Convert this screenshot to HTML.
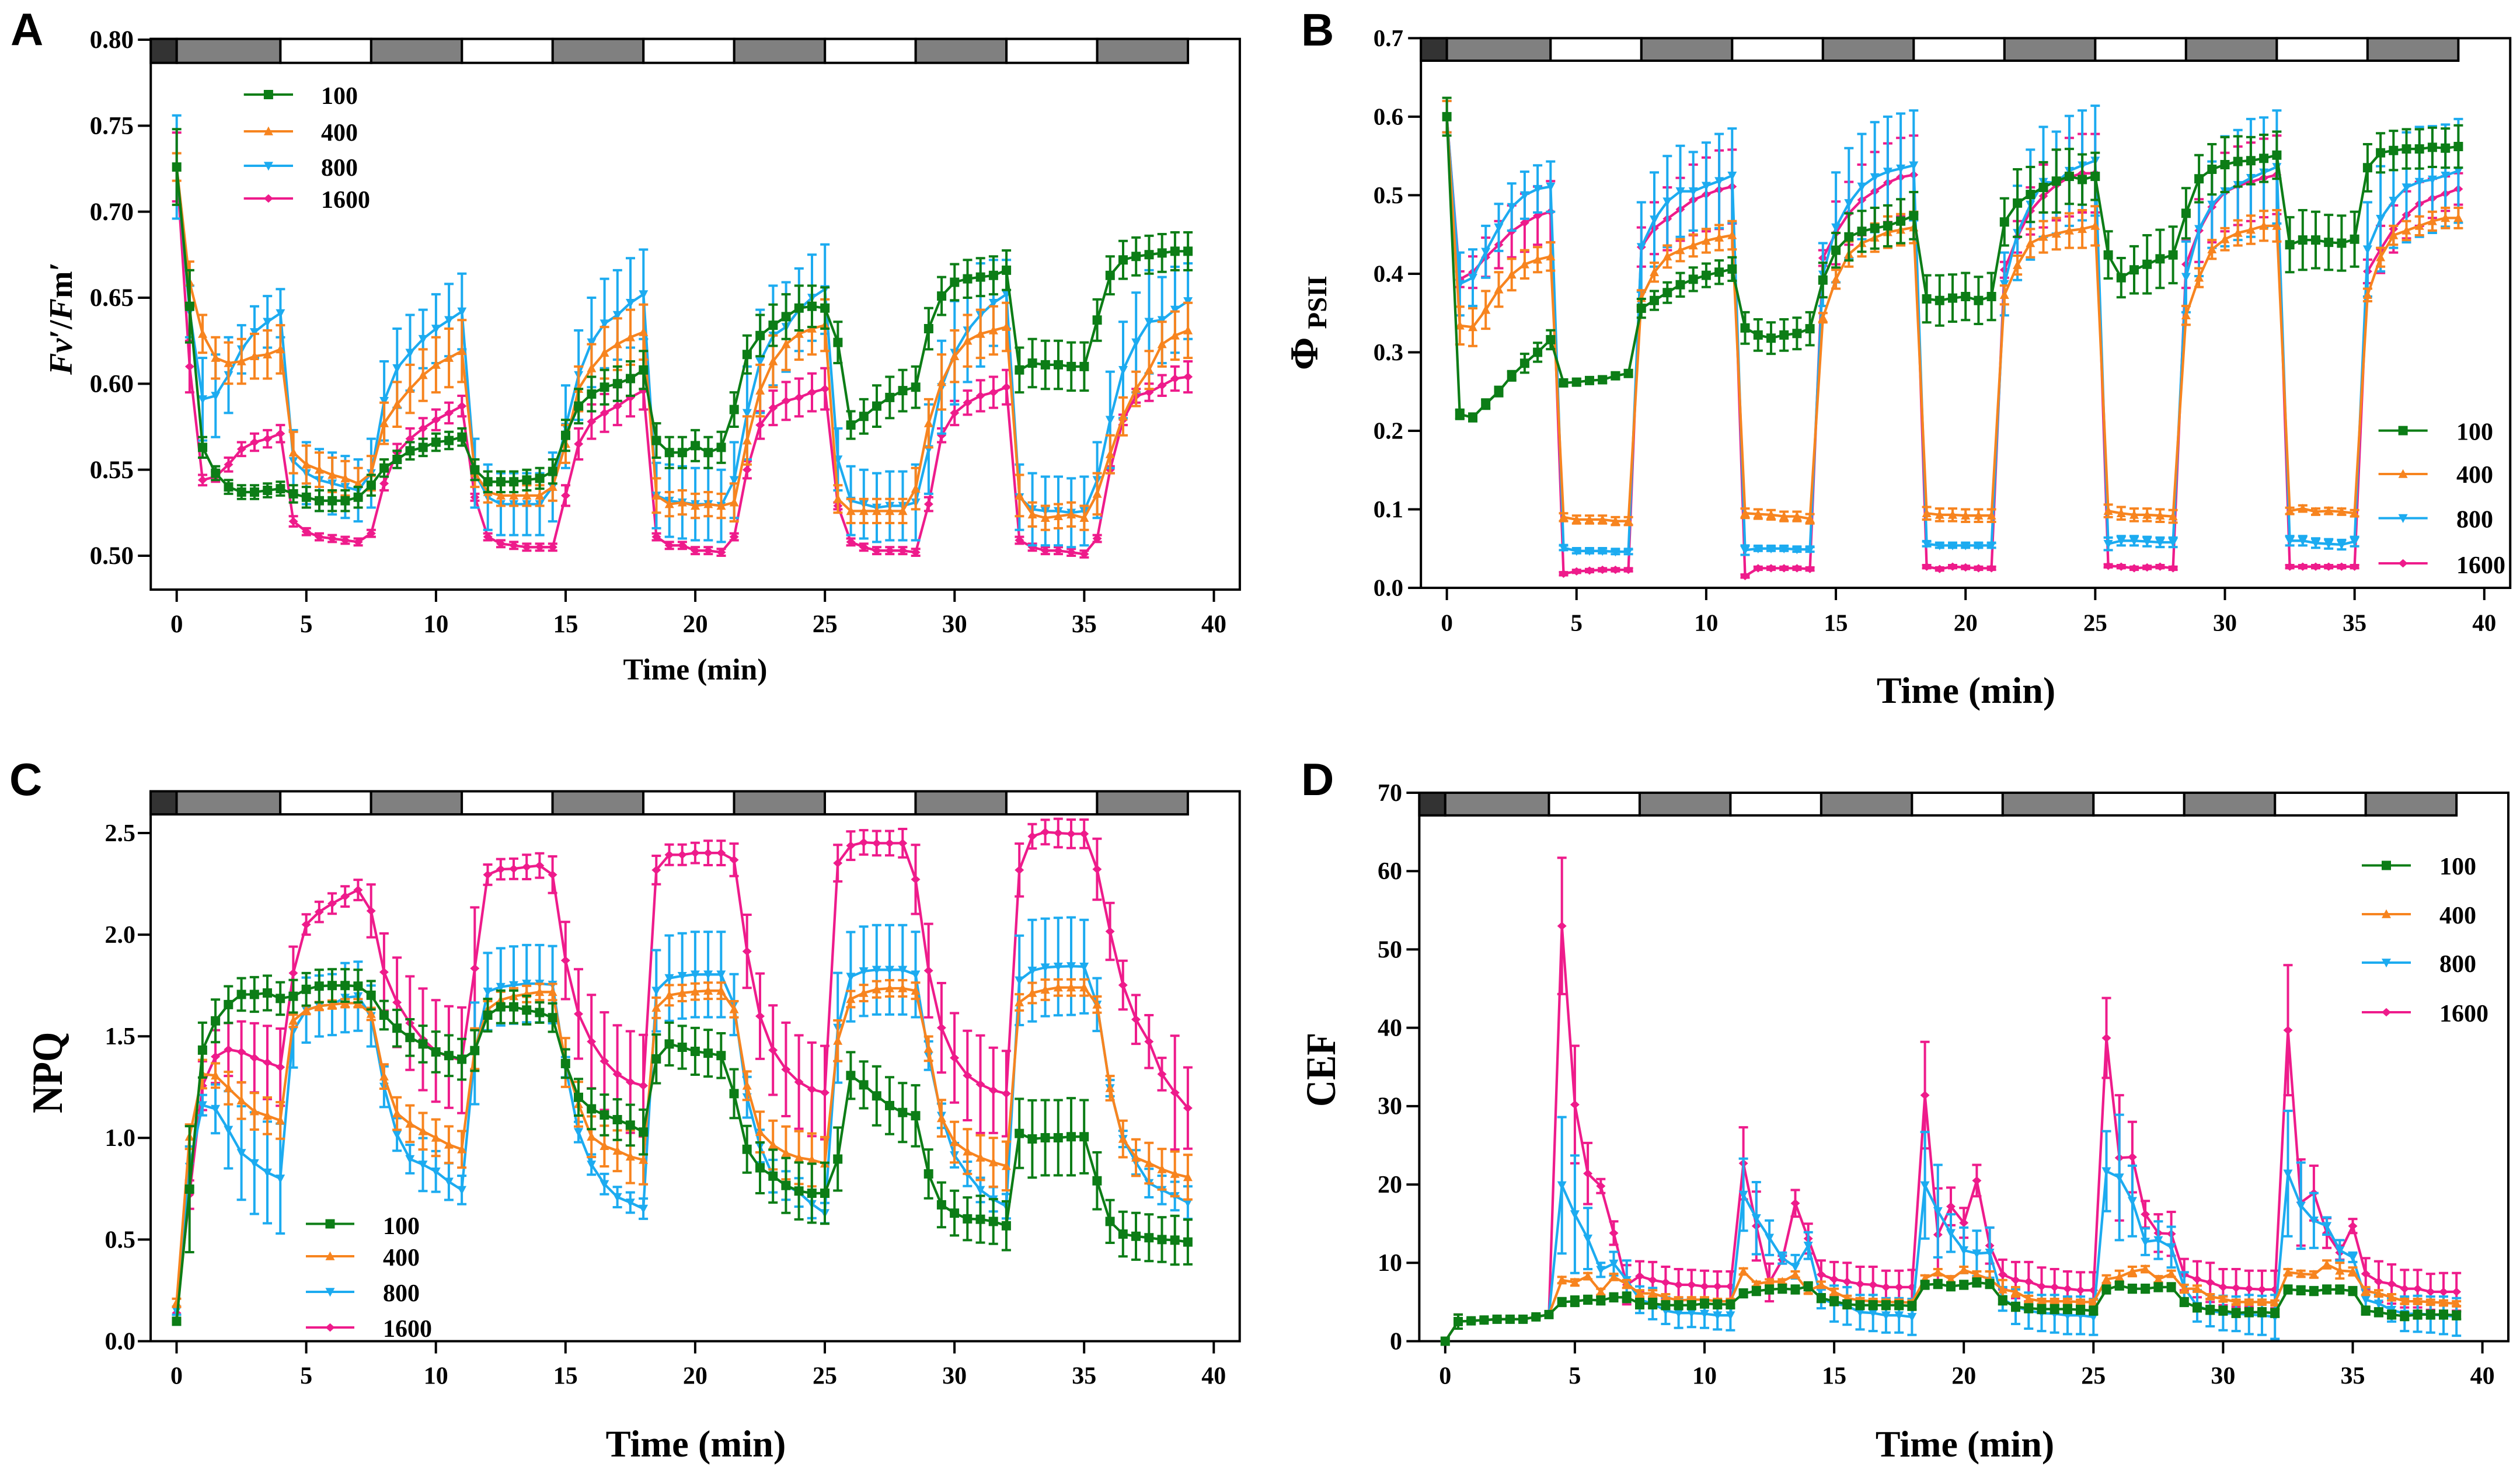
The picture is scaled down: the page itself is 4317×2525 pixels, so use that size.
<!DOCTYPE html>
<html lang="en">
<head>
<meta charset="utf-8">
<title>Chlorophyll fluorescence time courses</title>
<style>
html,body{margin:0;padding:0;background:#fff;}
svg{display:block;}
text{font-family:"Liberation Serif",serif;font-weight:bold;fill:#000;}
.panel-letter{font-family:"Liberation Sans",sans-serif;font-size:78px;}
</style>
</head>
<body>
<svg id="figure" xmlns="http://www.w3.org/2000/svg" width="4317" height="2525" viewBox="0 0 4317 2525">
<rect x="0" y="0" width="4317" height="2525" fill="#fff"/>
<text class="panel-letter" x="18" y="77">A</text>
<text class="panel-letter" x="2229" y="78">B</text>
<text class="panel-letter" x="16" y="1362">C</text>
<text class="panel-letter" x="2229" y="1362">D</text>
<text x="1191" y="1164" font-size="51.6" text-anchor="middle">Time (min)</text>
<text x="3368" y="1204" font-size="64" text-anchor="middle">Time (min)</text>
<text x="1192" y="2495" font-size="64.5" text-anchor="middle">Time (min)</text>
<text x="3366" y="2495" font-size="64" text-anchor="middle">Time (min)</text>
<text transform="translate(123,642) rotate(-90)" font-size="56"><tspan font-style="italic">F</tspan><tspan font-style="italic">v</tspan>′/<tspan font-style="italic">F</tspan>m′</text>
<text transform="translate(2257,634) rotate(-90)" font-size="68">Φ<tspan font-size="47" dx="14" dy="15">PSII</tspan></text>
<text transform="translate(106,1907) rotate(-90) scale(1,1.12)" font-size="66">NPQ</text>
<text transform="translate(2287,1896) rotate(-90) scale(1,1.14)" font-size="63.5">CEF</text>
</svg>
<script>
const seriesLabels = ['100','400','800','1600'];
const timeMin = [0,0.5,1,1.5,2,2.5,3,3.5,4,
4.5,5,5.5,6,6.5,7,
7.5,8,8.5,9,9.5,10,10.5,11,
11.5,12,12.5,13,13.5,14,
14.5,15,15.5,16,16.5,17,17.5,18,
18.5,19,19.5,20,20.5,21,
21.5,22,22.5,23,23.5,24,24.5,25,
25.5,26,26.5,27,27.5,28,
28.5,29,29.5,30,30.5,31,31.5,32,
32.5,33,33.5,34,34.5,35,
35.5,36,36.5,37,37.5,38,38.5,39];
const xTickValues = [0,5,10,15,20,25,30,35,40];
const barEdges = [-1,0,4,7.5,11,14.5,18,21.5,25,28.5,32,35.5,39];
const yTicksA = ['0.50','0.55','0.60','0.65','0.70','0.75','0.80'];
const yTicksB = ['0.0','0.1','0.2','0.3','0.4','0.5','0.6','0.7'];
const yTicksC = ['0.0','0.5','1.0','1.5','2.0','2.5'];
const yTicksD = ['0','10','20','30','40','50','60','70'];

/* Panel A: Fv'/Fm' */
const fvMean100 = [.726,.645,.563,.548,.54,.537,.537,.538,.539,
.536,.534,.532,.532,.532,.534,
.541,.551,.556,.561,.563,.566,.567,.569,
.55,.543,.543,.543,.544,.545,
.549,.57,.587,.594,.598,.6,.603,.608,
.567,.56,.56,.564,.56,.563,
.585,.617,.628,.634,.639,.644,.645,.644,
.624,.576,.581,.587,.592,.596,
.598,.632,.651,.659,.661,.662,.663,.666,
.608,.612,.611,.611,.61,.61,
.637,.663,.672,.674,.675,.676,.677,.677];
const fvErr100 = [.022,.021,.006,.004,.004,.004,.004,.004,.004,
.005,.006,.006,.006,.006,.006,
.006,.005,.005,.005,.005,.005,.005,.005,
.006,.006,.006,.006,.006,.006,
.007,.009,.01,.01,.01,.01,.01,.011,
.01,.009,.009,.009,.009,.009,
.01,.011,.012,.012,.013,.013,.012,.012,
.012,.008,.01,.012,.012,.012,
.012,.012,.011,.0105,.011,.011,.011,.0115,
.013,.014,.014,.014,.014,.014,
.012,.011,.011,.011,.011,.011,.011,.011];
const fvMean400 = [.726,.659,.629,.615,.612,.613,.616,.617,.62,
.56,.553,.55,.547,.545,.542,
.548,.577,.588,.597,.605,.611,.615,.619,
.548,.537,.535,.535,.535,.535,
.54,.565,.597,.609,.618,.623,.627,.63,
.535,.53,.531,.529,.53,.529,
.531,.567,.596,.613,.623,.629,.632,.634,
.533,.526,.526,.526,.526,.526,
.539,.577,.601,.616,.625,.629,.631,.633,
.535,.524,.522,.523,.524,.522,
.536,.559,.581,.597,.608,.623,.628,.631];
const fvErr400 = [.008,.012,.011,.012,.012,.013,.013,.014,.014,
.012,.011,.01,.01,.01,.009,
.01,.012,.013,.014,.015,.016,.017,.018,
.008,.006,.006,.006,.006,.006,
.008,.011,.013,.014,.015,.015,.016,.016,
.01,.007,.007,.007,.007,.007,
.011,.014,.015,.015,.015,.015,.015,.015,
.008,.007,.007,.007,.007,.007,
.012,.014,.016,.015,.015,.014,.014,.014,
.012,.007,.007,.007,.007,.007,
.012,.011,.011,.01,.011,.013,.014,.016];
const fvMean800 = [.726,.642,.591,.593,.605,.62,.63,.636,.641,
.555,.548,.544,.542,.54,.538,
.548,.59,.609,.618,.626,.632,.637,.642,
.548,.534,.53,.53,.53,.53,
.54,.575,.605,.624,.635,.64,.647,.652,
.535,.532,.531,.53,.53,.529,
.544,.583,.613,.628,.633,.643,.65,.655,
.556,.532,.53,.528,.529,.529,
.531,.562,.598,.618,.631,.64,.647,.652,
.534,.527,.526,.526,.525,.526,
.544,.579,.608,.624,.636,.637,.643,.648];
const fvErr800 = [.03,.015,.024,.024,.022,.014,.015,.015,.014,
.018,.018,.018,.018,.018,.018,
.02,.023,.023,.022,.017,.02,.021,.022,
.02,.019,.018,.018,.018,.018,
.02,.024,.026,.026,.026,.026,.026,.026,
.019,.021,.021,.021,.021,.021,
.022,.027,.03,.029,.026,.024,.025,.026,
.018,.02,.02,.02,.02,.02,
.022,.026,.027,.03,.03,.03,.025,.02,
.019,.021,.02,.02,.02,.02,
.022,.028,.028,.029,.03,.025,.025,.022];
const fvMean1600 = [.726,.61,.544,.546,.553,.562,.566,.568,.571,
.52,.514,.511,.51,.509,.508,
.513,.542,.56,.568,.574,.579,.583,.587,
.534,.511,.507,.506,.505,.505,
.505,.535,.565,.578,.583,.587,.592,.596,
.511,.506,.506,.503,.503,.502,
.511,.55,.576,.586,.59,.592,.595,.597,
.529,.508,.505,.503,.503,.503,
.502,.53,.57,.583,.589,.593,.595,.598,
.509,.505,.503,.503,.502,.501,
.51,.55,.579,.593,.595,.599,.603,.604];
const fvErr1600 = [.02,.015,.003,.003,.004,.004,.005,.005,.005,
.003,.002,.002,.002,.002,.002,
.002,.004,.005,.006,.006,.006,.006,.006,
.002,.002,.002,.002,.002,.002,
.002,.006,.009,.01,.011,.011,.011,.011,
.002,.002,.002,.002,.002,.002,
.002,.005,.008,.01,.011,.011,.011,.012,
.002,.002,.002,.002,.002,.002,
.002,.004,.004,.007,.007,.009,.009,.01,
.002,.002,.002,.002,.002,.002,
.002,.002,.003,.004,.005,.006,.007,.009];

/* Panel B: PhiPSII */
const psiiMean100 = [.6,.221,.217,.234,.25,.27,.286,.3,.316,
.261,.262,.264,.265,.27,.273,
.356,.366,.376,.386,.393,.398,.402,.406,
.331,.322,.318,.322,.324,.33,
.392,.43,.447,.454,.458,.461,.467,.474,
.368,.366,.369,.371,.366,.371,
.466,.49,.501,.51,.518,.524,.52,.524,
.424,.395,.405,.412,.419,.424,
.477,.521,.533,.539,.543,.544,.547,.551,
.437,.443,.443,.44,.439,.444,
.535,.554,.557,.559,.559,.561,.56,.562];
const psiiErr100 = [.024,.006,.005,.006,.006,.006,.012,.012,.012,
.004,.004,.004,.004,.004,.004,
.012,.012,.013,.015,.015,.015,.015,.015,
.02,.02,.02,.02,.02,.021,
.022,.022,.03,.026,.026,.026,.028,.03,
.03,.032,.03,.03,.03,.03,
.03,.043,.035,.032,.04,.035,.032,.03,
.03,.025,.03,.037,.037,.036,
.032,.03,.032,.035,.032,.03,.03,.03,
.035,.038,.036,.035,.035,.035,
.03,.025,.025,.025,.025,.025,.025,.027];
const psiiMean400 = [.6,.334,.332,.354,.38,.399,.412,.418,.422,
.09,.087,.087,.087,.085,.085,
.369,.402,.422,.43,.436,.442,.446,.449,
.095,.094,.093,.091,.091,.088,
.344,.393,.425,.439,.446,.453,.456,.459,
.095,.093,.093,.092,.092,.092,
.373,.411,.439,.447,.451,.455,.457,.461,
.098,.095,.093,.093,.092,.091,
.347,.395,.431,.444,.452,.456,.461,.461,
.098,.101,.097,.098,.097,.095,
.373,.421,.449,.455,.461,.467,.471,.471];
const psiiErr400 = [.02,.024,.024,.024,.022,.02,.018,.016,.018,
.005,.005,.005,.005,.005,.005,
.01,.012,.014,.014,.014,.015,.016,.018,
.006,.006,.006,.006,.006,.006,
.006,.012,.016,.017,.018,.02,.02,.02,
.008,.008,.008,.008,.008,.008,
.012,.012,.018,.02,.02,.022,.024,.025,
.008,.008,.008,.008,.008,.008,
.012,.012,.012,.014,.016,.018,.019,.02,
.004,.004,.004,.004,.004,.004,
.008,.012,.012,.012,.012,.012,.013,.013];
const psiiMean800 = [.6,.387,.395,.428,.459,.485,.5,.508,.511,
.051,.047,.047,.047,.046,.046,
.434,.469,.492,.505,.505,.512,.518,.525,
.048,.05,.05,.05,.049,.049,
.399,.459,.49,.511,.523,.53,.534,.538,
.056,.054,.054,.054,.054,.054,
.387,.452,.488,.517,.516,.531,.538,.544,
.056,.06,.06,.059,.058,.058,
.396,.457,.488,.505,.513,.522,.529,.536,
.06,.06,.057,.056,.055,.059,
.431,.47,.493,.51,.517,.52,.525,.531];
const psiiErr800 = [.02,.04,.036,.033,.03,.03,.03,.03,.032,
.003,.003,.003,.003,.003,.003,
.057,.06,.058,.058,.05,.055,.06,.06,
.006,.003,.003,.003,.003,.003,
.04,.07,.07,.067,.07,.07,.07,.07,
.003,.003,.003,.003,.003,.003,
.04,.06,.07,.07,.065,.07,.07,.07,
.008,.006,.006,.006,.006,.006,
.045,.06,.055,.07,.07,.075,.07,.072,
.006,.006,.006,.006,.006,.006,
.06,.067,.06,.07,.07,.068,.065,.066];
const psiiMean1600 = [.6,.393,.402,.421,.437,.454,.465,.474,.479,
.018,.021,.022,.023,.023,.023,
.434,.458,.47,.482,.494,.501,.507,.511,
.015,.025,.025,.025,.025,.024,
.42,.452,.477,.494,.505,.516,.523,.526,
.027,.024,.027,.026,.025,.025,
.405,.447,.48,.499,.513,.523,.528,.528,
.028,.027,.025,.026,.027,.025,
.412,.455,.485,.504,.512,.517,.522,.526,
.027,.027,.027,.027,.027,.027,
.403,.431,.457,.475,.489,.496,.502,.508];
const psiiErr1600 = [.02,.01,.02,.025,.03,.033,.037,.037,.039,
.002,.002,.002,.002,.002,.002,
.025,.033,.04,.04,.045,.047,.05,.047,
.002,.002,.002,.002,.002,.002,
.01,.04,.04,.045,.05,.05,.05,.05,
.002,.002,.002,.002,.002,.002,
.01,.02,.03,.04,.045,.05,.05,.05,
.002,.002,.002,.002,.002,.002,
.03,.04,.045,.05,.05,.05,.05,.05,
.002,.002,.002,.002,.002,.002,
.015,.03,.03,.03,.028,.025,.022,.02];

/* Panel C: NPQ */
const npqMean100 = [.098,.748,1.432,1.576,1.656,1.706,1.706,1.713,1.686,
1.697,1.731,1.747,1.75,1.75,1.747,
1.702,1.604,1.54,1.494,1.462,1.423,1.405,1.387,
1.43,1.604,1.645,1.645,1.629,1.617,
1.592,1.366,1.2,1.143,1.113,1.09,1.063,1.029,
1.389,1.462,1.446,1.426,1.417,1.405,
1.218,.944,.853,.812,.766,.739,.728,.728,
.896,1.307,1.261,1.207,1.159,1.125,
1.109,.823,.671,.63,.602,.6,.589,.568,
1.022,.995,1.001,1.001,1.006,1.006,
.789,.589,.527,.516,.509,.5,.497,.488];
const npqErr100 = [.01,.31,.135,.105,.09,.08,.085,.085,.08,
.08,.08,.08,.08,.08,.08,
.07,.07,.09,.09,.09,.1,.1,.1,
.1,.08,.08,.08,.07,.05,
.07,.07,.09,.1,.1,.1,.1,.11,
.12,.105,.105,.115,.115,.11,
.12,.115,.125,.13,.135,.14,.145,.15,
.155,.115,.115,.145,.14,.145,
.15,.12,.11,.11,.105,.115,.11,.12,
.17,.19,.185,.185,.19,.18,
.14,.105,.11,.115,.115,.11,.12,.11];
const npqMean400 = [.189,1.006,1.314,1.307,1.245,1.184,1.131,1.109,1.086,
1.576,1.629,1.649,1.656,1.663,1.663,
1.61,1.302,1.12,1.07,1.033,1.001,.967,.944,
1.439,1.633,1.679,1.697,1.708,1.718,
1.718,1.371,1.166,1.006,.96,.937,.908,.892,
1.64,1.702,1.713,1.72,1.724,1.724,
1.633,1.257,1.029,.965,.926,.903,.892,.874,
1.478,1.683,1.713,1.731,1.736,1.736,
1.724,1.439,1.097,.979,.933,.903,.88,.862,
1.667,1.713,1.729,1.74,1.74,1.74,
1.656,1.245,.995,.903,.876,.846,.823,.807];
const npqErr400 = [.02,.06,.07,.06,.08,.09,.09,.09,.09,
.03,.02,.02,.02,.02,.02,
.03,.06,.08,.09,.09,.09,.09,.09,
.1,.04,.04,.04,.04,.04,
.04,.12,.11,.1,.1,.1,.13,.12,
.05,.05,.04,.04,.04,.04,
.04,.07,.1,.12,.13,.13,.13,.13,
.1,.04,.04,.04,.04,.04,
.04,.06,.09,.1,.11,.11,.12,.12,
.04,.05,.05,.04,.04,.04,
.04,.06,.09,.09,.1,.1,.11,.11];
const npqMean800 = [.15,.858,1.161,1.143,1.04,.926,.876,.83,.8,
1.526,1.629,1.649,1.656,1.69,1.697,
1.6,1.252,1.017,.896,.869,.835,.785,.744,
1.416,1.72,1.743,1.752,1.759,1.759,
1.754,1.348,1.029,.869,.773,.709,.682,.652,
1.724,1.786,1.797,1.804,1.804,1.804,
1.656,1.2,.96,.812,.766,.732,.675,.63,
1.542,1.793,1.82,1.827,1.827,1.827,
1.804,1.405,1.109,.915,.823,.744,.698,.664,
1.775,1.823,1.839,1.843,1.845,1.843,
1.656,1.245,.995,.88,.778,.744,.714,.682];
const npqErr800 = [.02,.1,.05,.12,.19,.23,.25,.25,.27,
.18,.16,.15,.15,.17,.17,
.15,.1,.08,.07,.13,.1,.09,.07,
.25,.19,.19,.19,.19,.19,
.19,.05,.05,.05,.05,.05,.05,.05,
.2,.21,.21,.21,.21,.21,
.15,.1,.08,.08,.07,.07,.07,.05,
.27,.22,.22,.22,.22,.22,
.21,.07,.06,.06,.06,.06,.06,.06,
.22,.25,.24,.24,.24,.23,
.13,.04,.04,.06,.07,.07,.07,.08];
const npqMean1600 = [.139,.721,1.257,1.4,1.435,1.423,1.394,1.371,1.348,
1.811,2.05,2.112,2.153,2.188,2.22,
2.117,1.816,1.667,1.565,1.485,1.428,1.398,1.382,
1.834,2.295,2.322,2.324,2.333,2.34,
2.295,1.873,1.61,1.474,1.378,1.314,1.275,1.257,
2.318,2.393,2.393,2.402,2.402,2.402,
2.368,1.918,1.599,1.432,1.337,1.275,1.239,1.223,
2.352,2.438,2.454,2.45,2.45,2.45,
2.272,1.823,1.542,1.394,1.307,1.264,1.234,1.218,
2.318,2.484,2.505,2.5,2.496,2.496,
2.322,2.016,1.752,1.583,1.474,1.314,1.223,1.147];
const npqErr1600 = [.03,.07,.12,.13,.13,.15,.17,.18,.19,
.13,.05,.05,.05,.05,.05,
.13,.19,.22,.23,.25,.25,.25,.26,
.3,.05,.05,.05,.06,.06,
.09,.19,.22,.23,.24,.24,.25,.25,
.07,.05,.05,.05,.06,.06,
.08,.18,.21,.22,.23,.23,.23,.23,
.09,.07,.06,.06,.06,.07,
.17,.23,.22,.22,.22,.24,.21,.21,
.13,.06,.06,.07,.07,.07,
.15,.14,.12,.12,.13,.08,.28,.2];

/* Panel D: CEF */
const cefMean100 = [0,2.5,2.6,2.7,2.8,2.8,2.8,3.1,3.4,
5,5.1,5.3,5.2,5.6,5.6,
4.8,4.8,4.6,4.6,4.6,4.8,4.7,4.7,
6.1,6.4,6.6,6.7,6.6,7,
5.5,5.1,4.7,4.6,4.6,4.6,4.6,4.5,
7.2,7.3,7,7.2,7.5,7.3,
5.2,4.4,4.2,4.1,4.1,4.1,4,3.9,
6.6,7.1,6.7,6.7,6.9,6.9,
5,4.3,4,3.9,3.6,3.7,3.7,3.6,
6.6,6.5,6.4,6.6,6.6,6.4,
3.9,3.7,3.4,3.2,3.4,3.4,3.4,3.3];
const cefErr100 = [0,.9,.2,.2,.2,.2,.2,.2,.2,
.5,.6,.5,.5,.5,.6,
.6,.6,.5,.5,.5,.5,.5,.5,
.5,.5,.5,.5,.5,.5,
.5,.5,.5,.5,.5,.5,.5,.5,
.5,.5,.5,.5,.5,.5,
.5,.5,.5,.5,.5,.5,.5,.5,
.5,.5,.5,.5,.5,.5,
.5,.5,.5,.5,.5,.5,.5,.5,
.5,.5,.5,.5,.5,.5,
.5,.5,.5,.5,.5,.5,.5,.5];
const cefMean400 = [0,2.5,2.6,2.7,2.8,2.8,2.8,3.1,3.4,
7.8,7.5,8.3,6.3,8.2,7.3,
6.1,6.1,5.6,5.2,5.3,5.3,5.1,5.1,
8.9,7.3,7.6,7.6,8.5,6.4,
7.2,6.3,5.5,5.2,5.1,5,5,4.9,
8,8.8,7.9,9.1,8.5,7.9,
6.6,6.3,5.4,5.1,5.1,5.1,5,5,
7.9,8.2,8.9,9.2,7.9,8.6,
6.7,6.7,5.7,5.4,5,5,5,4.9,
8.8,8.6,8.5,9.8,9,8.9,
6.4,6.1,5.6,5.1,5.1,5,4.9,4.8];
const cefErr400 = [0,.9,.2,.2,.2,.2,.2,.2,.2,
.4,.4,.4,.4,.4,.5,
.4,.4,.4,.4,.3,.3,.3,.3,
.4,.3,.3,.3,.4,.3,
.4,.4,.3,.3,.3,.3,.3,.3,
.4,.4,.4,.4,.4,1,
1.2,.6,.4,.3,.3,.3,.3,.3,
.5,.8,.6,.4,.4,.4,
.5,.4,.3,.3,.3,.3,.3,.3,
.4,.4,.4,.5,1,.5,
.5,.4,.4,.3,.3,.3,.3,.3];
const cefMean800 = [0,2.5,2.6,2.7,2.8,2.8,2.8,3.1,3.4,
19.9,16.2,13.1,9.1,9.9,7.8,
5.3,4.8,3.9,3.6,3.6,3.5,3.3,3.3,
18.7,15.7,13.2,10.6,9.5,12.2,
5.4,4.8,4.5,3.7,3.6,3.3,3.3,3.1,
19.9,16.6,13.8,11.6,11.2,11.3,
5.4,4.4,3.9,3.6,3.5,3.3,3.3,3.1,
21.7,20.9,17.9,12.7,12.9,12,
6.8,4.5,3.9,3.6,3.5,3.4,3.3,3.1,
21.4,17.3,15.4,14.7,11.6,10.7,
5.3,4.8,4,3.5,3.5,3.4,3.3,3.1];
const cefErr800 = [0,.9,.2,.2,.2,.2,.2,.2,.2,
8.7,7.5,3.9,.9,1.5,2.5,
1.7,2,1.7,1.9,1.8,1.8,1.8,1.9,
4.6,4.6,2.2,.7,1.5,1.7,
1.2,2.3,2.4,2.2,2.3,2.2,2.2,2.3,
6.8,5.9,2.4,2.9,2.9,3.2,
1.5,2.2,2.3,2.3,2.4,2.4,2.4,2.3,
5.1,8,4.5,1.7,2.4,2.6,
2,2,2,2.2,2.2,2.5,2.5,2.8,
8,5.5,3.5,1.1,1.3,.6,
1.5,1.2,1.5,2.2,2.3,2.3,2.4,2.4];
const cefMean1600 = [0,2.5,2.6,2.7,2.8,2.8,2.8,3.1,3.4,
53,30.2,21.4,19.8,13.8,7.2,
8.3,7.8,7.5,7.2,7.2,7,7,7,
22.7,14.7,7.5,10.4,17.6,13.1,
8.5,7.9,7.6,7.3,7.2,6.9,6.9,6.9,
31.4,13.6,17.2,15.1,20.5,12.2,
8.5,7.8,7.6,7,6.9,6.7,6.5,6.5,
38.7,23.4,23.5,16.2,13.8,13.7,
8.5,7.9,7.5,6.9,6.8,6.7,6.6,6.6,
39.7,17.7,18.9,13.8,11.3,14.7,
8.6,7.6,7.3,6.7,6.7,6.3,6.3,6.3];
const cefErr1600 = [0,.9,.2,.2,.2,.2,.2,.2,.2,
8.7,7.5,3.9,.9,1.5,2.5,
1.9,2.3,2,2,1.9,2,1.9,1.9,
4.6,4.4,2.4,.5,1.7,1.9,
1.8,2.2,2.4,2.2,2.3,2.1,2.1,2.2,
6.8,5.9,2.4,1.9,2,2.3,
1.9,2.3,2.5,2.4,2.3,2.2,2.3,2.3,
5.1,8,4.5,1.7,2.4,2.8,
2,2.3,2.5,2.3,2.4,2.3,2.4,2.4,
8.3,5.5,3.5,1.9,.9,.9,
2,2.6,2.5,2.4,2.4,2.3,2.4,2.4];

const SVG_NS = 'http://www.w3.org/2000/svg';
const colors = ['#0c7d16','#f7841f','#1cabf0','#ee1b8b'];
const markerKinds = ['square','up','down','diamond'];
const root = document.getElementById('figure');

function mk(tag, attrs, parent) {
  const el = document.createElementNS(SVG_NS, tag);
  for (const k in attrs) el.setAttribute(k, attrs[k]);
  parent.appendChild(el);
  return el;
}
function markerPoints(kind, cx, cy, s) {
  const h = s / 2;
  if (kind === 'up') return [[cx-h,cy+h*0.85],[cx+h,cy+h*0.85],[cx,cy-h*1.05]];
  if (kind === 'down') return [[cx-h,cy-h*0.85],[cx+h,cy-h*0.85],[cx,cy+h*1.05]];
  if (kind === 'diamond') return [[cx,cy-h*0.9],[cx+h,cy],[cx,cy+h*0.9],[cx-h,cy]];
  return [[cx-h,cy-h],[cx+h,cy-h],[cx+h,cy+h],[cx-h,cy+h]];
}
function ptStr(pts) { return pts.map(p => p[0].toFixed(1) + ',' + p[1].toFixed(1)).join(' '); }

const panels = [
  {id:'a', x0:302.7, ux:44.42, vA:.8, pA:68, vB:.5, pB:952, top:66.7, barBottom:107.7, bottom:1010,
   ticks:yTicksA, tickRight:229, xBase:1083, font:43,
   means:[fvMean100,fvMean400,fvMean800,fvMean1600], errs:[fvErr100,fvErr400,fvErr800,fvErr1600],
   lx1:417.7, lx2:502, ltx:550, ly:[162,225,284,340], lb:[178,241,301,356]},
  {id:'b', x0:2478.6, ux:44.43, vA:.7, pA:65.4, vB:0, pB:1007, top:65.4, barBottom:104, bottom:1007,
   ticks:yTicksB, tickRight:2404, xBase:1080.5, font:41,
   means:[psiiMean100,psiiMean400,psiiMean800,psiiMean1600], errs:[psiiErr100,psiiErr400,psiiErr800,psiiErr1600],
   lx1:4074.6, lx2:4158.7, ltx:4208, ly:[737.6,812,887.6,965], lb:[753.6,827,903.5,982]},
  {id:'c', x0:302.5, ux:44.42, vA:2.5, pA:1427, vB:0, pB:2297.5, top:1355.5, barBottom:1395, bottom:2297.5,
   ticks:yTicksC, tickRight:232, xBase:2370.5, font:42,
   means:[npqMean100,npqMean400,npqMean800,npqMean1600], errs:[npqErr100,npqErr400,npqErr800,npqErr1600],
   lx1:524, lx2:607, ltx:656, ly:[2096.5,2152,2213,2274], lb:[2114,2168,2229,2290]},
  {id:'d', x0:2475.8, ux:44.42, vA:70, pA:1358, vB:0, pB:2297.5, top:1358, barBottom:1396.8, bottom:2297.5,
   ticks:yTicksD, tickRight:2402, xBase:2370.5, font:42,
   means:[cefMean100,cefMean400,cefMean800,cefMean1600], errs:[cefErr100,cefErr400,cefErr800,cefErr1600],
   lx1:4046, lx2:4130, ltx:4179, ly:[1482.5,1566,1649,1734], lb:[1498,1582,1665,1750]}
];

panels.forEach(function (p) {
  const xs = t => p.x0 + t * p.ux;
  const ys = v => p.pB + (v - p.vB) * (p.pA - p.pB) / (p.vA - p.vB);
  const left = xs(-1), right = xs(41);

  const g = mk('g', {}, root);
  
  

  const frame = mk('rect', {x:left, y:p.top, width:right-left, height:p.bottom-p.top, fill:'#fff', stroke:'#000', 'stroke-width':4}, g);
  
  

  for (let i = 0; i < barEdges.length - 1; i++) {
    const x1 = xs(barEdges[i]), x2 = xs(barEdges[i+1]);
    const fill = i === 0 ? '#333333' : (i % 2 === 1 ? '#808080' : '#ffffff');
    const seg = mk('rect', {x:x1, y:p.top, width:x2-x1, height:p.barBottom-p.top, fill:fill, stroke:'#000', 'stroke-width':4}, g);
    
    
  }

  xTickValues.forEach(function (t) {
    const tick = mk('line', {x1:xs(t), x2:xs(t), y1:p.bottom, y2:p.bottom+21, stroke:'#000', 'stroke-width':4}, g);
    
    
    const lab = mk('text', {x:xs(t), y:p.xBase, 'font-size':p.font, 'text-anchor':'middle'}, g);
    
    
    lab.textContent = String(t);
  });

  p.ticks.forEach(function (s) {
    const yy = ys(parseFloat(s));
    const tick = mk('line', {x1:left-22, x2:left, y1:yy, y2:yy, stroke:'#000', 'stroke-width':4}, g);
    
    
    const lab = mk('text', {x:p.tickRight, y:yy+p.font*0.33, 'font-size':p.font, 'text-anchor':'end'}, g);
    
    
    lab.textContent = s;
  });

  /* draw order: 1600, 800, 400, 100 */
  [3,2,1,0].forEach(function (si) {
    const color = colors[si], mean = p.means[si], err = p.errs[si];
    const sg = mk('g', {}, g);
    
    

    timeMin.forEach(function (t, i) {
      const cx = xs(t), hi = ys(mean[i] + err[i]), lo = ys(mean[i] - err[i]);
      const bar = mk('path', {d:'M'+cx.toFixed(1)+' '+hi.toFixed(1)+'V'+lo.toFixed(1)+
        'M'+(cx-8).toFixed(1)+' '+hi.toFixed(1)+'H'+(cx+8).toFixed(1)+
        'M'+(cx-8).toFixed(1)+' '+lo.toFixed(1)+'H'+(cx+8).toFixed(1),
        fill:'none', stroke:color, 'stroke-width':4}, sg);
      
      
    });

    const line = mk('polyline', {points:ptStr(timeMin.map((t,i)=>[xs(t),ys(mean[i])])), fill:'none', stroke:color, 'stroke-width':4.3, 'stroke-linejoin':'round'}, sg);
    
    

    timeMin.forEach(function (t, i) {
      const mark = mk('polygon', {points:ptStr(markerPoints(markerKinds[si], xs(t), ys(mean[i]), 16)), fill:color}, sg);
      
      
    });
  });

  const lg = mk('g', {}, g);
  
  
  seriesLabels.forEach(function (lbl, si) {
    const ly = p.ly[si], cx = (p.lx1 + p.lx2) / 2;
    const ln = mk('line', {x1:p.lx1, x2:p.lx2, y1:ly, y2:ly, stroke:colors[si], 'stroke-width':4}, lg);
    
    
    const mk2 = mk('polygon', {points:ptStr(markerPoints(markerKinds[si], cx, ly, 16)), fill:colors[si]}, lg);
    
    
    const tx = mk('text', {x:p.ltx, y:p.lb[si], 'font-size':42}, lg);
    
    
    tx.textContent = lbl;
  });
});
</script>
</body>
</html>
